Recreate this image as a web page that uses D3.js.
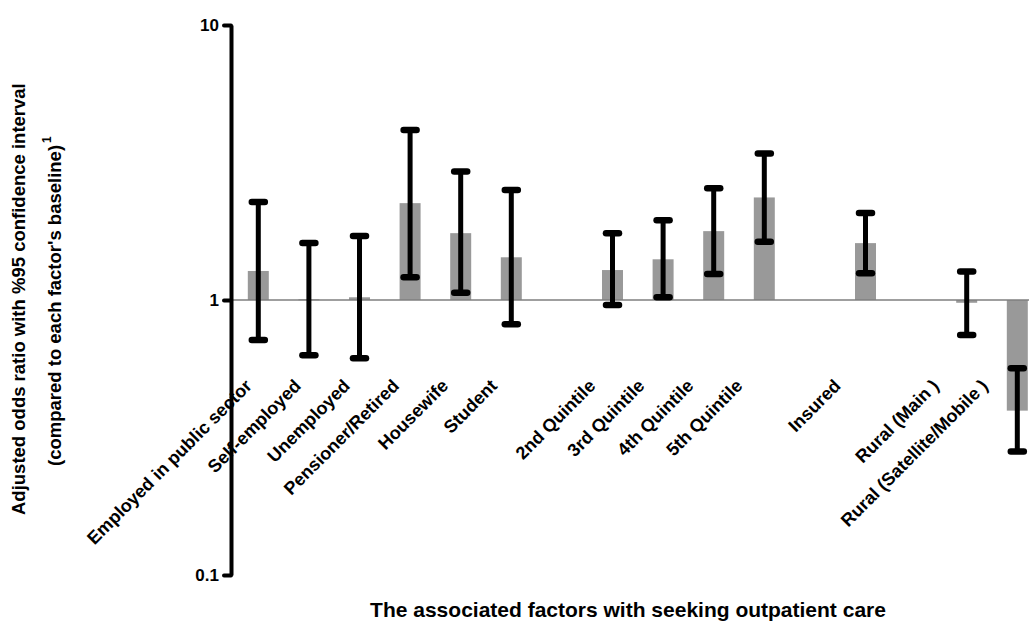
<!DOCTYPE html>
<html>
<head>
<meta charset="utf-8">
<script src="https://cdn.jsdelivr.net/npm/d3@7"></script>
<style>
  body { margin: 0; background: #fff; }
  svg text { font-family: "Liberation Sans", Arial, sans-serif; font-weight: bold; fill: #000; }
</style>
</head>
<body>
<div class="canvas"></div>
<script>
const svgWidth = 1029;
const svgHeight = 622;

// factors (empty strings are the gaps between factor groups)
const categories = [
  'Employed in public sector', 'Self-employed', 'Unemployed', 'Pensioner/Retired',
  'Housewife', 'Student', '',
  '2nd Quintile', '3rd Quintile', '4th Quintile', '5th Quintile', '',
  'Insured', '',
  'Rural (Main )', 'Rural (Satellite/Mobile )'
];
const oddsRatio = [1.275, 1.006, 1.023, 2.25, 1.75, 1.43, null, 1.285, 1.406, 1.78, 2.36, null, 1.61, null, 0.977, 0.396];
const ciLower  = [0.715, 0.63, 0.614, 1.21, 1.063, 0.816, null, 0.959, 1.023, 1.243, 1.63, null, 1.25, null, 0.746, 0.281];
const ciUpper  = [2.27, 1.61, 1.71, 4.15, 2.93, 2.51, null, 1.75, 1.95, 2.55, 3.41, null, 2.07, null, 1.27, 0.565];
const yTicks = [0.1, 1, 10];
const yTickLabels = ['0.1', '1', '10'];

const svg = d3.select('.canvas')
  .append('svg')
    .attr('width', svgWidth)
    .attr('height', svgHeight);

const x = d3.scaleBand()
  .domain(d3.range(categories.length))
  .range([247.8, 1027.8])
  .paddingInner(0.585)
  .paddingOuter(0);

// labels sit on a slightly tighter spacing than the bars
const xLabel = d3.scalePoint()
  .domain(d3.range(categories.length))
  .range([253, 989]);

const y = d3.scaleLog()
  .domain([0.1, 10])
  .range([575, 25]);

const items = categories.map((c, i) => ({
  i, name: c, or: oddsRatio[i], lo: ciLower[i], hi: ciUpper[i]
})).filter(d => d.or != null);

// bars from 1 to the odds ratio
svg.append('g').selectAll('rect')
  .data(items)
  .enter().append('rect')
    .attr('x', d => x(d.i))
    .attr('width', x.bandwidth())
    .attr('y', d => y(Math.max(d.or, 1)))
    .attr('height', d => Math.max(1, Math.abs(y(d.or) - y(1))))
    .attr('fill', '#999');

// reference line at 1
svg.append('line')
  .attr('x1', 231).attr('x2', svgWidth)
  .attr('y1', y(1)).attr('y2', y(1))
  .attr('stroke', '#7f7f7f')
  .attr('stroke-width', 1.5);

// error bars
const err = svg.append('g').selectAll('g')
  .data(items)
  .enter().append('g')
    .attr('transform', d => `translate(${x(d.i) + x.bandwidth() / 2},0)`);

err.append('line')
  .attr('y1', d => y(d.lo)).attr('y2', d => y(d.hi))
  .attr('stroke', '#000').attr('stroke-width', 5);

['lo', 'hi'].forEach(k => {
  err.append('line')
    .attr('x1', -6.5).attr('x2', 6.5)
    .attr('y1', d => y(d[k])).attr('y2', d => y(d[k]))
    .attr('stroke', '#000').attr('stroke-width', 6.5)
    .attr('stroke-linecap', 'round');
});

// y axis
const yAxis = d3.axisLeft(y)
  .tickValues(yTicks)
  .tickFormat((d, i) => yTickLabels[i])
  .tickSize(7)
  .tickSizeOuter(0)
  .tickPadding(5);

const yAxisGroup = svg.append('g')
  .attr('class', 'y-axis')
  .attr('transform', 'translate(231,0)')
  .call(yAxis);

yAxisGroup.select('.domain').attr('stroke', '#000').attr('stroke-width', 4);
yAxisGroup.selectAll('.tick line').attr('stroke', '#000').attr('stroke-width', 4).attr('stroke-linecap', 'round');
yAxisGroup.selectAll('.tick text')
  .attr('font-size', 17)
  .attr('fill', '#000');

// category labels
svg.append('g').selectAll('text')
  .data(items)
  .enter().append('text')
    .attr('transform', d => `translate(${xLabel(d.i)},387) rotate(-45)`)
    .attr('text-anchor', 'end')
    .attr('font-size', 18)
    .text(d => d.name);

// axis titles
svg.append('text')
  .attr('transform', 'translate(25,515) rotate(-90)')
  .attr('font-size', 18.5)
  .text('Adjusted odds ratio with %95 confidence interval');

const t2 = svg.append('text')
  .attr('transform', 'translate(61,466) rotate(-90)')
  .attr('font-size', 18.5)
  .text("(compared to each factor's baseline)");
t2.append('tspan')
  .attr('font-size', 12)
  .attr('dx', 2)
  .attr('dy', -10)
  .text('1');

svg.append('text')
  .attr('x', 628)
  .attr('y', 617)
  .attr('text-anchor', 'middle')
  .attr('font-size', 21)
  .text('The associated factors with seeking outpatient care');
</script>
</body>
</html>
